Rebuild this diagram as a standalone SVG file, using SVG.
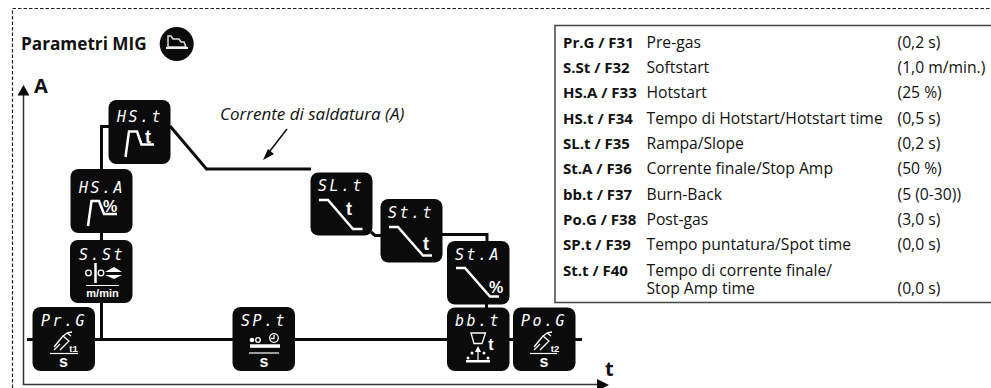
<svg xmlns="http://www.w3.org/2000/svg" width="991" height="388" viewBox="0 0 991 388">
<style>
text{font-family:"Open Sans","Noto Sans","Liberation Sans",sans-serif;fill:#111}
.b{font-weight:700;font-size:15px}
.r{font-size:15.700px}
.n{fill:#0b0b0b}
.d{font-family:"DejaVu Sans Mono","Liberation Mono",monospace;font-style:italic;font-size:15px;fill:#fff;text-anchor:middle;letter-spacing:2.500px}
.u{font-family:"Liberation Sans",sans-serif;font-weight:700;fill:#fff;text-anchor:middle}
.w{fill:none;stroke:#fff;stroke-width:2.500}
.l{fill:none;stroke:#fff;stroke-width:1.200}
.t{fill:none;stroke:#fff;stroke-width:1.300}
.f{fill:#fff}
.c{fill:none;stroke:#0b0b0b;stroke-width:3}
</style>
<rect width="991" height="388" fill="#fff"/>
<path d="M12.500 388V8.500H991" fill="none" stroke="#222" stroke-width="1.200" stroke-dasharray="3.500 2"/>
<text x="21" y="50" font-size="17.200" font-weight="700">Parametri MIG</text>
<g id="mig-icon"><circle cx="176.700" cy="44" r="17" fill="#0b0b0b"/><path d="M168 47V36H171L173 39H179L181 42H184L186 47Z" fill="none" stroke="#ddd" stroke-width="1.500"/><path d="M166 48H188" stroke="#eee" stroke-width="2"/></g>
<text x="34" y="93" font-size="20" font-weight="700">A</text>
<text x="605" y="376" font-size="20" font-weight="700">t</text>
<g id="axes"><path d="M23.500 94V384.500H598" fill="none" stroke="#333" stroke-width="1.500"/><path d="M23.500 85L17.500 95.500H29.500Z" fill="#0b0b0b"/><path d="M609 385L597 379V391Z" fill="#0b0b0b"/></g>
<text x="220" y="120" font-size="17" font-style="italic">Corrente di saldatura (A)</text>
<g id="connectors">
<path class="c" d="M27 339.500H582"/>
<path class="c" d="M101.500 339V169M101.500 240V126.500H109"/>
<path class="c" d="M170 126L206.500 169H311"/>
<path class="c" d="M371 232L375 235.500H381M442 234.500H487V242M486.500 304V308M509 339.500H514"/>
<path d="M287 129L266 156" fill="none" stroke="#0b0b0b" stroke-width="1.500"/><path d="M263 160L274 154L268 149Z" fill="#0b0b0b"/>
</g>
<g id="Pr.G"><rect class="n" x="32.500" y="307" width="62.500" height="64" rx="8"/><text class="d" x="64" y="326">Pr.G</text><path class="t" d="M54 347L63 336L69 341L60 350M62 337L67 333L71 336M67 333L72 332M54 350L60 344"/><text class="u" x="73.500" y="352" font-size="9.500">t1</text><path class="l" d="M50 353.500H78"/><text class="u" x="63.500" y="367" font-size="16">s</text></g>
<g id="S.St"><rect class="n" x="70" y="240" width="62.500" height="63" rx="8"/><text class="d" x="102" y="260">S.St</text><circle class="t" cx="88.500" cy="273" r="2.800" stroke-width="2"/><path class="w" d="M95.500 263V283"/><circle class="t" cx="101" cy="273" r="2.800" stroke-width="2"/><path class="f" d="M105 272H122L114 267ZM105 275H122L114 279Z"/><path class="l" d="M86 285.500H119"/><text class="u" x="102.500" y="297" font-size="11">m/min</text></g>
<g id="HS.A"><rect class="n" x="70.500" y="169" width="62" height="64" rx="8"/><text class="d" x="102" y="193">HS.A</text><path class="w" d="M88 226L91.500 201H99L104 214H117"/><text class="u" x="110" y="212" font-size="16">%</text></g>
<g id="HS.t"><rect class="n" x="108.500" y="100" width="62" height="64" rx="8"/><text class="d" x="140" y="122">HS.t</text><path class="w" d="M125.500 157L129 131.500H137L141.500 144.500H154"/><text class="u" x="148" y="143" font-size="18">t</text></g>
<g id="SP.t"><rect class="n" x="232.500" y="307" width="62.500" height="64" rx="8"/><text class="d" x="264" y="326">SP.t</text><circle class="f" cx="252" cy="340" r="2.300"/><circle class="t" cx="258" cy="340" r="2.300"/><circle class="t" cx="274" cy="338" r="4.300" stroke-width="1.500"/><path class="t" d="M274 335V338.500H271"/><rect class="f" x="250" y="344.300" width="30" height="3.500"/><path class="l" d="M249 353H279"/><text class="u" x="264" y="367" font-size="16">s</text></g>
<g id="SL.t"><rect class="n" x="310.500" y="172.500" width="62" height="63" rx="8"/><text class="d" x="341" y="191">SL.t</text><path class="w" d="M319 200H328L353 229H362.500"/><text class="u" x="349" y="215" font-size="18">t</text></g>
<g id="St.t"><rect class="n" x="380.500" y="199" width="62" height="63.500" rx="8"/><text class="d" x="411" y="218">St.t</text><path class="w" d="M389 227H398L423 255.500H432"/><text class="u" x="426" y="250" font-size="18">t</text></g>
<g id="St.A"><rect class="n" x="447" y="241" width="62.500" height="63.500" rx="8"/><text class="d" x="478" y="260">St.A</text><path class="w" d="M456 268H465L490 296.500H499"/><text class="u" x="496" y="293" font-size="16">%</text></g>
<g id="bb.t"><rect class="n" x="447" y="307.500" width="62.500" height="63.500" rx="8"/><text class="d" x="478" y="326">bb.t</text><path class="t" d="M471 333H485.500L482 343.500H474Z" stroke-width="1.500"/><text class="u" x="491" y="350" font-size="16">t</text><path class="l" d="M478 349V360"/><path class="f" d="M478 346L475 352H481Z"/><rect class="f" x="466" y="360" width="24" height="2.500"/><circle class="f" cx="468" cy="358" r="1.500"/><circle class="f" cx="472" cy="353" r="1.500"/><circle class="f" cx="484" cy="353" r="1.500"/><circle class="f" cx="488" cy="358" r="1.500"/></g>
<g id="Po.G"><rect class="n" x="513" y="307.500" width="62.500" height="63.500" rx="8"/><text class="d" x="544" y="326">Po.G</text><path class="t" d="M534 347L543 336L549 341L540 350M542 337L547 333L551 336M547 333L552 332M534 350L540 344"/><text class="u" x="555" y="352" font-size="9.500">t2</text><path class="l" d="M530 353.500H557"/><text class="u" x="544" y="367" font-size="16">s</text></g>
<g id="table">
<path d="M991 25.500H555V302.500H991" fill="none" stroke="#444" stroke-width="1.500"/>
<text class="b" x="563" y="48">Pr.G / F31</text><text class="r" x="646.500" y="48">Pre-gas</text><text class="r" x="897.500" y="48">(0,2 s)</text>
<text class="b" x="563" y="73">S.St / F32</text><text class="r" x="646.500" y="73">Softstart</text><text class="r" x="897.500" y="73">(1,0 m/min.)</text>
<text class="b" x="563" y="98">HS.A / F33</text><text class="r" x="646.500" y="98">Hotstart</text><text class="r" x="897.500" y="98">(25 %)</text>
<text class="b" x="563" y="124">HS.t / F34</text><text class="r" x="646.500" y="124">Tempo di Hotstart/Hotstart time</text><text class="r" x="897.500" y="124">(0,5 s)</text>
<text class="b" x="563" y="149">SL.t / F35</text><text class="r" x="646.500" y="149">Rampa/Slope</text><text class="r" x="897.500" y="149">(0,2 s)</text>
<text class="b" x="563" y="174">St.A / F36</text><text class="r" x="646.500" y="174">Corrente finale/Stop Amp</text><text class="r" x="897.500" y="174">(50 %)</text>
<text class="b" x="563" y="200">bb.t / F37</text><text class="r" x="646.500" y="200">Burn-Back</text><text class="r" x="897.500" y="200">(5 (0-30))</text>
<text class="b" x="563" y="225">Po.G / F38</text><text class="r" x="646.500" y="225">Post-gas</text><text class="r" x="897.500" y="225">(3,0 s)</text>
<text class="b" x="563" y="250">SP.t / F39</text><text class="r" x="646.500" y="250">Tempo puntatura/Spot time</text><text class="r" x="897.500" y="250">(0,0 s)</text>
<text class="b" x="563" y="275.500">St.t / F40</text><text class="r" x="646.500" y="275.500">Tempo di corrente finale/<tspan x="646.500" y="293.500">Stop Amp time</tspan></text>
<text class="r" x="897.500" y="293.500">(0,0 s)</text>
</g>
</svg>
